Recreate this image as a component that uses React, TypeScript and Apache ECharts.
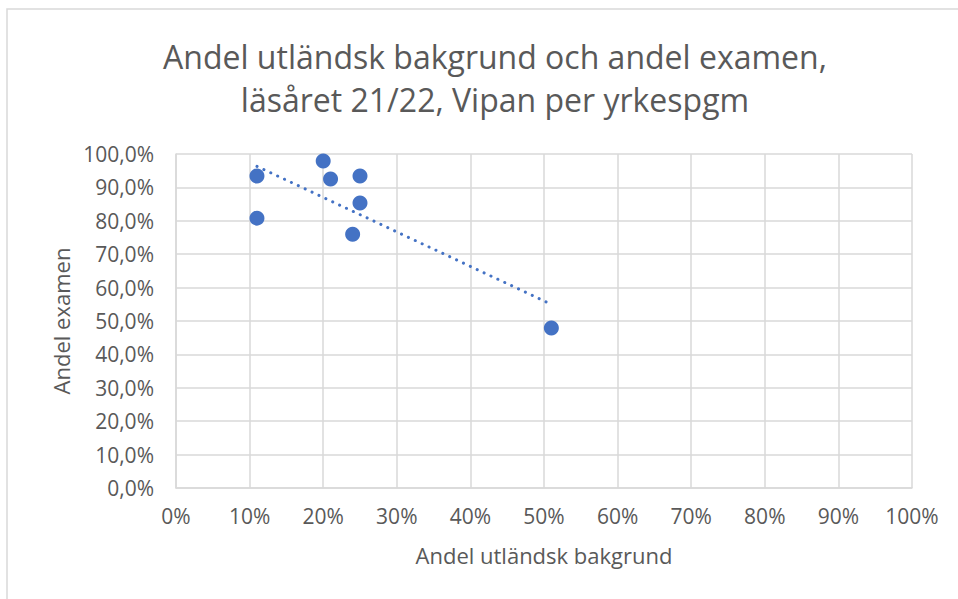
import React, { useEffect, useRef } from "react";
import * as echarts from "echarts";

const titleLines = ["Andel utländsk bakgrund och andel examen,", "läsåret 21/22, Vipan per yrkespgm"];
const xAxisName = "Andel utländsk bakgrund";
const yAxisName = "Andel examen";
// share with foreign background (fraction)
const xValues = [0.11, 0.11, 0.2, 0.21, 0.25, 0.25, 0.24, 0.51];
// share with degree (fraction)
const yValues = [0.934, 0.808, 0.979, 0.925, 0.934, 0.853, 0.76, 0.479];

function regression(xs: number[], ys: number[]) {
  const n = xs.length;
  const mx = xs.reduce((a, b) => a + b, 0) / n;
  const my = ys.reduce((a, b) => a + b, 0) / n;
  let sxy = 0;
  let sxx = 0;
  for (let i = 0; i < n; i++) {
    sxy += (xs[i] - mx) * (ys[i] - my);
    sxx += (xs[i] - mx) * (xs[i] - mx);
  }
  const slope = sxy / sxx;
  return { slope, intercept: my - slope * mx };
}

export default function App() {
  const ref = useRef<HTMLDivElement>(null);
  useEffect(() => {
    document.body.style.margin = "0";
    const chart = echarts.init(ref.current!, null, { renderer: "svg" });
    const { slope, intercept } = regression(xValues, yValues);
    const xmin = Math.min(...xValues);
    const xmax = Math.max(...xValues);
    const trend = [
      [xmin, intercept + slope * xmin],
      [xmax, intercept + slope * xmax],
    ];
    const font = "'Open Sans', 'Liberation Sans', sans-serif";
    const textColor = "#595959";
    const gridColor = "#d9d9d9";
    chart.setOption({
      animation: false,
      backgroundColor: "#ffffff",
      textStyle: { fontFamily: font },
      title: {
        text: titleLines.join("\n"),
        left: 490,
        top: 30,
        textAlign: "center",
        textStyle: {
          fontFamily: font,
          fontSize: 32,
          fontWeight: "normal",
          color: textColor,
          lineHeight: 43,
        },
      },
      graphic: [
        {
          type: "rect",
          shape: { x: 7, y: 9, width: 1000, height: 700 },
          style: { fill: "none", stroke: gridColor, lineWidth: 1.5 },
          silent: true,
        },
      ],
      grid: { left: 176, right: 46, top: 154, bottom: 111, containLabel: false },
      xAxis: {
        type: "value",
        min: 0,
        max: 1,
        interval: 0.1,
        name: xAxisName,
        nameLocation: "middle",
        nameGap: 56,
        nameTextStyle: { fontFamily: font, fontSize: 22, color: textColor },
        axisLine: { show: true, lineStyle: { color: gridColor, width: 1.5 } },
        axisTick: { show: false },
        splitLine: { show: true, lineStyle: { color: gridColor, width: 1.5 } },
        axisLabel: {
          fontFamily: font,
          fontSize: 21,
          color: textColor,
          margin: 17,
          formatter: (v: number) => Math.round(v * 100) + "%",
        },
      },
      yAxis: {
        type: "value",
        min: 0,
        max: 1,
        interval: 0.1,
        name: yAxisName,
        nameLocation: "middle",
        nameGap: 101,
        nameTextStyle: { fontFamily: font, fontSize: 22, color: textColor },
        axisLine: { show: true, lineStyle: { color: gridColor, width: 1.5 } },
        axisTick: { show: false },
        splitLine: { show: true, lineStyle: { color: gridColor, width: 1.5 } },
        axisLabel: {
          fontFamily: font,
          fontSize: 21,
          color: textColor,
          margin: 22,
          formatter: (v: number) => (v * 100).toFixed(1).replace(".", ",") + "%",
        },
      },
      series: [
        {
          type: "line",
          data: trend,
          symbol: "none",
          silent: true,
          z: 1,
          lineStyle: { color: "#4472C4", width: 3, type: [0.1, 7.5], cap: "round" },
        },
        {
          type: "scatter",
          data: xValues.map((x, i) => [x, yValues[i]]),
          symbolSize: 15,
          z: 2,
          itemStyle: { color: "#4472C4", opacity: 1 },
        },
      ],
    });
    return () => chart.dispose();
  }, []);
  return <div ref={ref} style={{ width: 958, height: 599 }} />;
}
